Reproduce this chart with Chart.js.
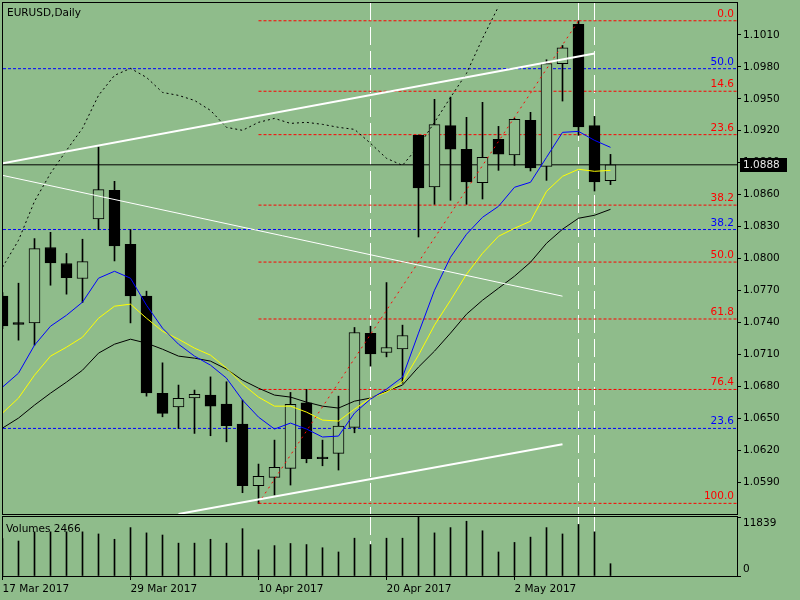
<!DOCTYPE html>
<html>
<head>
<meta charset="utf-8">
<script src="https://cdn.jsdelivr.net/npm/chart.js@4.4.0/dist/chart.umd.min.js"></script>
<style>
  html, body { margin: 0; padding: 0; background: #8FBC8B; overflow: hidden; }
  #main { position: absolute; left: 0; top: 0; width: 800px; height: 516px; }
  #vol { position: absolute; left: 0; top: 516px; width: 800px; height: 84px; }
</style>
</head>
<body>
<div id="main"><canvas id="priceChart"></canvas></div>
<div id="vol"><canvas id="volChart"></canvas></div>
<script>
// DATA (EURUSD daily, 17 Mar - 10 May 2017)
const opens  = [1.07646,1.07399,1.07395,1.08103,1.07953,1.07812,1.08371,1.08641,1.08134,1.07646,1.06733,1.06607,1.06691,1.06717,1.06632,1.06445,1.05865,1.05944,1.06029,1.06644,1.06135,1.06170,1.06414,1.07296,1.07117,1.07151,1.09157,1.08672,1.09248,1.09025,1.08713,1.09119,1.08972,1.09298,1.08866,1.09830,1.10199,1.09248,1.08732];
const highs  = [1.07680,1.07768,1.08187,1.08246,1.08047,1.08181,1.09047,1.08725,1.08272,1.07693,1.07020,1.06811,1.06764,1.06888,1.06842,1.06670,1.06069,1.06294,1.06742,1.06770,1.06294,1.06707,1.07352,1.07364,1.07774,1.07374,1.09160,1.09495,1.09516,1.09326,1.09467,1.09241,1.09316,1.09373,1.09867,1.10001,1.10233,1.09335,1.08978];
const lows   = [1.07340,1.07233,1.07186,1.07749,1.07665,1.07587,1.08272,1.07977,1.07395,1.06707,1.06513,1.06404,1.06357,1.06335,1.06278,1.05800,1.05700,1.05778,1.05872,1.06081,1.06053,1.06013,1.06363,1.06989,1.07076,1.06829,1.08202,1.08509,1.08547,1.08509,1.08559,1.08828,1.08875,1.08822,1.08734,1.09479,1.09157,1.08634,1.08694];
const closes = [1.07367,1.07380,1.08093,1.07958,1.07821,1.07971,1.08647,1.08118,1.07649,1.06738,1.06545,1.06686,1.06723,1.06613,1.06429,1.05865,1.05954,1.06038,1.06629,1.06119,1.06119,1.06426,1.07305,1.07104,1.07164,1.07277,1.08662,1.09257,1.09028,1.08719,1.08950,1.08981,1.09307,1.08850,1.09830,1.09980,1.09235,1.08719,1.08880];
const volumes = [7500,7018,8861,8861,8861,8861,8436,7373,9712,8649,8223,6593,6593,7373,6593,9499,5246,6097,6522,6309,5671,4821,7585,6309,7585,7585,11839,8649,9712,10988,9074,4821,6735,7798,9712,8436,10350,8861,2466];

// moving averages
const maFast = [1.06792,1.06923,1.07186,1.07364,1.07467,1.07590,1.07815,1.07880,1.07815,1.07561,1.07346,1.07195,1.07083,1.06998,1.06876,1.06670,1.06510,1.06398,1.06454,1.06398,1.06323,1.06332,1.06548,1.06679,1.06773,1.06886,1.07299,1.07702,1.08012,1.08228,1.08387,1.08490,1.08669,1.08716,1.08950,1.09185,1.09194,1.09110,1.09044];
const maMid  = [1.06548,1.06689,1.06904,1.07083,1.07167,1.07261,1.07439,1.07552,1.07571,1.07439,1.07317,1.07242,1.07158,1.07092,1.06970,1.06820,1.06698,1.06613,1.06613,1.06557,1.06482,1.06473,1.06585,1.06689,1.06745,1.06839,1.07092,1.07374,1.07608,1.07852,1.08049,1.08209,1.08284,1.08350,1.08631,1.08772,1.08838,1.08819,1.08828];
const maSlow = [1.06407,1.06501,1.06623,1.06735,1.06839,1.06951,1.07111,1.07195,1.07242,1.07205,1.07148,1.07083,1.07064,1.07036,1.06961,1.06857,1.06782,1.06717,1.06698,1.06651,1.06613,1.06595,1.06660,1.06689,1.06754,1.06811,1.06980,1.07130,1.07299,1.07477,1.07608,1.07721,1.07834,1.07965,1.08143,1.08275,1.08378,1.08406,1.08462];
// shifted (dotted) line
const shiftedLine = [1.07918,1.08171,1.08537,1.08800,1.09016,1.09223,1.09532,1.09720,1.09786,1.09701,1.09560,1.09532,1.09485,1.09391,1.09232,1.09204,1.09279,1.09316,1.09269,1.09279,1.09260,1.09232,1.09213,1.09082,1.08941,1.08875,1.09054,1.09279,1.09513,1.09739,1.10067,1.10367];

// axis ticks
const priceTicks = [1.1010,1.0980,1.0950,1.0920,1.0890,1.0860,1.0830,1.0800,1.0770,1.0740,1.0710,1.0680,1.0650,1.0620,1.0590];
const dateTicks = [0, 8, 16, 24, 32];
const dateLabels = ["17 Mar 2017", "29 Mar 2017", "10 Apr 2017", "20 Apr 2017", "2 May 2017"];

// fibo (red) drawn from bar 16 low to bar 36 high
const fibHigh = 1.10233, fibLow = 1.05700;
const fibRatios = [0, 14.6, 23.6, 38.2, 50, 61.8, 76.4, 100];
const fibStart = 16, fibEnd = 36;
// second (blue) fibo levels
const blueLevels = [1.09783, 1.08272, 1.06404];
const blueLabels = ["50.0", "38.2", "23.6"];

// trend lines [bar, price]
const upperChannel = [[0, 1.08893], [37, 1.09926]];
const lowerChannel = [[11, 1.05600], [35, 1.06255]];
const thinLine = [[0, 1.08781], [35, 1.07646]];
const vLines = [23, 36, 37];

const X_MIN = 0.03125, X_MAX = 45.90625;
const Y_MIN = 1.0560, Y_MAX = 1.1040;
const VOL_MAX = 11839;
const BG = "#8FBC8B";
const FONT = "10.5px 'DejaVu Sans'";

Chart.defaults.font.family = "'DejaVu Sans'";
Chart.defaults.font.size = 10.5;
Chart.defaults.color = "#000";

const idx = opens.map((_, i) => i);
const pts = arr => arr.map((v, i) => ({ x: i, y: v }));
const fibLevel = r => fibHigh - (fibHigh - fibLow) * r / 100;
const seg = (a, color, width, dash, order) => ({
  type: "line", data: a.map(p => ({ x: p[0], y: p[1] })),
  borderColor: color, borderWidth: width, borderDash: dash || [],
  pointRadius: 0, tension: 0, order: order
});
// keep axes from reserving extra room for their end labels
const noPad = s => { s.paddingTop = 0; s.paddingBottom = 0; s.paddingLeft = 0; s.paddingRight = 0; };

const priceSets = [];
// fib & horizontal lines (behind candles)
fibRatios.forEach(r => priceSets.push(seg([[fibStart, fibLevel(r)], [X_MAX, fibLevel(r)]], "#FF0000", 1, [3, 2], 50)));
blueLevels.forEach(v => priceSets.push(seg([[X_MIN, v], [X_MAX, v]], "#0000FF", 1, [3, 2], 50)));
priceSets.push(seg([[X_MIN, closes[closes.length - 1]], [X_MAX, closes[closes.length - 1]]], "#000", 1, [], 50));
vLines.forEach(v => priceSets.push(seg([[v, Y_MAX], [v, Y_MIN]], "#FFFFFF", 1, [18, 6], 50)));
// candles
priceSets.push({
  type: "bar", data: idx.map(i => ({ x: i, y: [lows[i], highs[i]] })),
  backgroundColor: "#000", barThickness: 1, grouped: false, order: 40
});
priceSets.push({
  type: "bar", data: idx.map(i => ({ x: i, y: [opens[i], closes[i]] })),
  backgroundColor: idx.map(i => closes[i] < opens[i] ? "#000" : BG),
  borderColor: "#000", borderWidth: 1, borderSkipped: false,
  barThickness: 11, grouped: false, minBarLength: 1, order: 30
});
// indicators
priceSets.push({ type: "line", data: pts(maSlow), borderColor: "#000", borderWidth: 1, pointRadius: 0, tension: 0, order: 20 });
priceSets.push({ type: "line", data: pts(maMid), borderColor: "#FFFF00", borderWidth: 1, pointRadius: 0, tension: 0, order: 19 });
priceSets.push({ type: "line", data: pts(maFast), borderColor: "#0000FF", borderWidth: 1, pointRadius: 0, tension: 0, order: 18 });
priceSets.push({ type: "line", data: pts(shiftedLine), borderColor: "#000", borderWidth: 1, borderDash: [2, 3], pointRadius: 0, tension: 0, order: 17 });
// objects
priceSets.push(seg([[fibStart, fibLow], [fibEnd, fibHigh]], "#FF0000", 1, [2, 4], 12));
priceSets.push(seg(upperChannel, "#FFFFFF", 2, [], 10));
priceSets.push(seg(lowerChannel, "#FFFFFF", 2, [], 10));
priceSets.push(seg(thinLine, "#FFFFFF", 1, [], 10));

const priceLabels = {
  id: "priceLabels",
  afterDatasetsDraw(chart) {
    const { ctx, chartArea: a, scales: { y } } = chart;
    ctx.save();
    ctx.font = FONT;
    ctx.textAlign = "right";
    ctx.textBaseline = "alphabetic";
    ctx.fillStyle = "#FF0000";
    fibRatios.forEach(r => ctx.fillText(r.toFixed(1), a.right - 3, y.getPixelForValue(fibLevel(r)) - 4));
    ctx.fillStyle = "#0000FF";
    blueLevels.forEach((v, i) => ctx.fillText(blueLabels[i], a.right - 3, y.getPixelForValue(v) - 4));
    ctx.textAlign = "left";
    ctx.fillStyle = "#000";
    ctx.fillText("EURUSD,Daily", 7, 16);
    ctx.strokeStyle = "#000";
    ctx.lineWidth = 1;
    ctx.strokeRect(a.left - 0.5, a.top - 0.5, a.width + 1, a.height + 1);
    ctx.restore();
  },
  afterDraw(chart) {
    const { ctx, chartArea: a, scales: { y } } = chart;
    const last = closes[closes.length - 1];
    const py = Math.round(y.getPixelForValue(last));
    ctx.save();
    ctx.fillStyle = "#000";
    ctx.fillRect(a.right + 3, py - 7, 47, 14);
    ctx.font = FONT;
    ctx.fillStyle = "#E8E8E8";
    ctx.textBaseline = "middle";
    ctx.fillText(last.toFixed(4), a.right + 6, py + 0.5);
    ctx.restore();
  }
};

new Chart(document.getElementById("priceChart"), {
  type: "line",
  data: { datasets: priceSets },
  options: {
    responsive: true, maintainAspectRatio: false, animation: false,
    devicePixelRatio: 1, events: [],
    layout: { padding: { left: 3, top: 3, right: 0, bottom: 2 } },
    plugins: { legend: { display: false }, tooltip: { enabled: false } },
    scales: {
      x: { type: "linear", min: X_MIN, max: X_MAX, display: false, offset: false },
      y: {
        position: "right", min: Y_MIN, max: Y_MAX,
        afterBuildTicks: s => { s.ticks = priceTicks.map(v => ({ value: v })); },
        afterFit: s => { s.width = 63; noPad(s); },
        ticks: { padding: 2, callback: v => v.toFixed(4) },
        grid: { drawOnChartArea: false, drawTicks: true, tickLength: 4, color: "#000" },
        border: { display: true, color: "#000" }
      }
    }
  },
  plugins: [priceLabels]
});

// VOLUME PANEL
const volSets = [];
vLines.forEach(v => volSets.push(seg([[v, VOL_MAX], [v, 0]], "#FFFFFF", 1, [18, 6], 50)));
volSets.push({
  type: "bar", data: idx.map(i => ({ x: i, y: volumes[i] })),
  backgroundColor: "#000", barThickness: 1, grouped: false, order: 10
});

const volLabels = {
  id: "volLabels",
  afterDatasetsDraw(chart) {
    const { ctx, chartArea: a } = chart;
    ctx.save();
    ctx.font = FONT;
    ctx.fillStyle = "#000";
    ctx.textBaseline = "alphabetic";
    ctx.fillText("Volumes " + volumes[volumes.length - 1], 6, 15.5);
    ctx.strokeStyle = "#000";
    ctx.lineWidth = 1;
    ctx.strokeRect(a.left - 0.5, a.top - 0.5, a.width + 1, a.height + 1);
    ctx.restore();
  }
};

new Chart(document.getElementById("volChart"), {
  type: "line",
  data: { datasets: volSets },
  options: {
    responsive: true, maintainAspectRatio: false, animation: false,
    devicePixelRatio: 1, events: [],
    layout: { padding: { left: 3, top: 1, right: 0, bottom: 0 } },
    plugins: { legend: { display: false }, tooltip: { enabled: false } },
    scales: {
      x: {
        type: "linear", min: X_MIN, max: X_MAX, offset: false,
        afterBuildTicks: s => { s.ticks = dateTicks.map(v => ({ value: v })); },
        afterFit: s => { s.height = 24; noPad(s); },
        ticks: {
          align: "start", padding: 3, autoSkip: false, maxRotation: 0,
          callback: v => dateLabels[dateTicks.indexOf(v)]
        },
        grid: { drawOnChartArea: false, drawTicks: true, tickLength: 4, color: "#000", offset: false },
        border: { display: true, color: "#000" }
      },
      y: {
        position: "right", min: 0, max: VOL_MAX,
        afterBuildTicks: s => { s.ticks = [{ value: VOL_MAX }, { value: 0 }]; },
        afterFit: s => { s.width = 63; noPad(s); },
        ticks: { padding: 2, callback: v => v === 0 ? ["0", ""] : ["", String(v)] },
        grid: { drawOnChartArea: false, drawTicks: true, tickLength: 4, color: "#000" },
        border: { display: true, color: "#000" }
      }
    }
  },
  plugins: [volLabels]
});
</script>
</body>
</html>
